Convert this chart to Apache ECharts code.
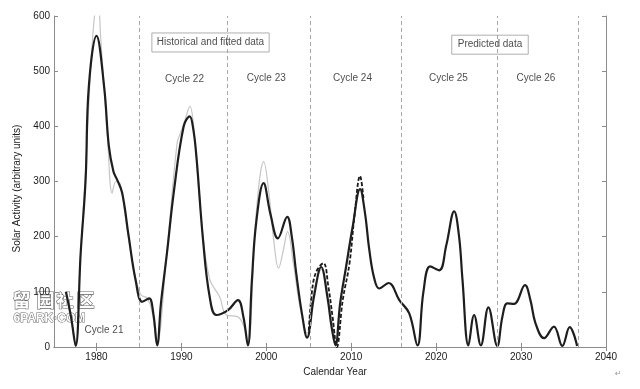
<!DOCTYPE html>
<html>
<head>
<meta charset="utf-8">
<script src="https://cdn.jsdelivr.net/npm/echarts@6/dist/echarts.min.js"></script>
<style>
html,body{margin:0;padding:0;background:#fff;}
#chart{width:640px;height:389px;}
</style>
</head>
<body>
<div id="chart"></div>
<script>
// ---- data ----
var yearTicks = [1980, 1990, 2000, 2010, 2020, 2030, 2040];
var cycleBoundaries = [1985.0, 1995.4, 2005.2, 2015.9, 2027.2, 2036.7];

// fitted + predicted activity (solid black)
var fitYears = [1976.4,1977.0,1977.55,1978.14,1978.72,1979.1,1980.0,1980.9,1981.46,1982.0,1982.44,1983.03,1983.8,1984.6,1985.4,1986.2,1986.7,1987.15,1987.6,1988.3,1989.1,1990.27,1990.98,1991.4,1991.77,1992.55,1993.33,1994.12,1995.5,1996.66,1997.3,1997.83,1998.3,1998.8,1999.68,2000.5,2001.36,2002.46,2003.0,2003.52,2004.2,2004.8,2005.6,2006.46,2007.2,2007.7,2008.14,2008.7,2009.4,2010.17,2011.04,2011.6,2012.13,2012.7,2013.3,2014.4,2015.66,2016.83,2017.8,2018.5,2019.3,2020.36,2021.2,2022.12,2022.7,2023.1,2023.8,2024.47,2025.26,2026.15,2027.2,2027.8,2028.38,2029.17,2030.46,2031.1,2031.7,2032.7,2033.87,2034.85,2035.72,2036.6];
var fitValues = [100,55,2,170,303,472,564,472,364,318,303,279,200,122,82,88,60,3,80,170,280,400,418,395,345,194,91,58,67,85,55,3,120,224,297,240,197,236,200,134,60,17,90,145,90,35,3,80,146,218,286,245,176,125,106,116,85,61,3,100,146,139,185,246,200,122,3,58,3,72,2,55,79,78,112,85,43,16,37,2,36,2];

// historical data (light grey)
var histYears = [1976.4,1977.0,1977.55,1978.1,1978.72,1979.3,1979.7,1979.95,1980.2,1980.5,1980.9,1981.3,1981.85,1982.3,1982.8,1983.5,1984.3,1985.2,1986.0,1986.6,1987.1,1988.3,1989.5,1989.9,1990.4,1991.0,1991.5,1992.3,1993.3,1994.5,1995.3,1996.6,1997.3,1997.83,1998.8,1999.7,2000.3,2000.9,2001.44,2002.0,2002.5,2003.2,2004.0,2004.8,2005.5,2006.5,2007.4,2008.2];
var histValues = [100,50,5,160,320,500,590,615,620,560,470,380,279,300,295,225,150,95,88,60,5,175,370,388,410,436,390,240,125,91,58,55,40,5,240,336,280,190,143,175,209,150,70,25,95,140,80,5];

// cycle 24 observed (black dashed)
var c24Years = [2005.0,2005.47,2006.0,2006.73,2007.3,2007.8,2008.3,2009.0,2009.8,2010.37,2011.04,2011.45];
var c24Values = [30,112,140,152,110,55,0,85,152,236,310,268];

// annotations
var cycleNames = ['Cycle 21','Cycle 22','Cycle 23','Cycle 24','Cycle 25','Cycle 26'];
var cycleLabelYears = [1980.89, 1990.37, 2000.0, 2010.15, 2021.45, 2031.75];
var cycleLabelValues = [31, 486, 487, 487, 487, 487];

function pairs(xs, ys){ return xs.map(function(x,i){ return [x, ys[i]]; }); }

var FONT = 'Liberation Sans, Arial, Helvetica, sans-serif';
var AXC = '#8c8c8c';

var chart = echarts.init(document.getElementById('chart'), null, {renderer:'canvas'});

function note(text, x, y, extra){
  var lab = {show:true, position:'inside', formatter:text, color:'#1a1a1a', fontSize:10, fontFamily:FONT};
  if (extra) for (var k in extra) lab[k] = extra[k];
  return {value:[x,y], label:lab};
}

var notes = cycleNames.map(function(n,i){ return note(n, cycleLabelYears[i], cycleLabelValues[i]); });
notes.push(note('Historical and fitted data', 1993.43, 552, {borderColor:'#9a9a9a', borderWidth:1, padding:[5,5,4,5]}));
notes.push(note('Predicted data', 2026.34, 548, {borderColor:'#9a9a9a', borderWidth:1, padding:[5,6,4,6]}));

function yr(v){ return String(v); }

var option = {
  animation:false,
  backgroundColor:'#fff',
  textStyle:{fontFamily:FONT},
  grid:{left:54, right:34, top:16, bottom:42, containLabel:false},
  xAxis:[{
    type:'value', min:1975, max:2040, position:'bottom',
    name:'Calendar Year', nameLocation:'middle', nameGap:20,
    nameTextStyle:{fontSize:10, color:'#1a1a1a', fontFamily:FONT, padding:[0,0,0,10]},
    axisLine:{show:true, lineStyle:{color:AXC, width:1}},
    axisTick:{show:true, inside:true, length:4, lineStyle:{color:AXC}, customValues:yearTicks},
    axisLabel:{show:true, color:'#1a1a1a', fontSize:10, fontFamily:FONT, margin:5, customValues:yearTicks, formatter:yr},
    splitLine:{show:false}
  },{
    type:'value', min:1975, max:2040, position:'top',
    axisLine:{show:true, lineStyle:{color:AXC, width:1}},
    axisTick:{show:true, inside:true, length:4, lineStyle:{color:AXC}, customValues:yearTicks},
    axisLabel:{show:false, customValues:yearTicks},
    splitLine:{show:false}
  }],
  yAxis:[{
    type:'value', min:0, max:600, interval:100, position:'left',
    name:'Solar Activity (arbitrary units)', nameLocation:'middle', nameGap:22,
    nameTextStyle:{fontSize:10, color:'#1a1a1a', fontFamily:FONT, padding:[0,14,0,0]},
    axisLine:{show:true, lineStyle:{color:AXC, width:1}},
    axisTick:{show:true, inside:true, length:4, lineStyle:{color:AXC}},
    axisLabel:{show:true, color:'#1a1a1a', fontSize:10, fontFamily:FONT, margin:4},
    splitLine:{show:false}
  },{
    type:'value', min:0, max:600, interval:100, position:'right',
    axisLine:{show:true, lineStyle:{color:AXC, width:1}},
    axisTick:{show:true, inside:true, length:4, lineStyle:{color:AXC}},
    axisLabel:{show:false},
    splitLine:{show:false}
  }],
  series:[
    {
      name:'Historical data', type:'line', data:pairs(histYears, histValues),
      smooth:0.4, showSymbol:false, clip:true,
      lineStyle:{color:'#c6c6c6', width:1.2}, z:2,
      markLine:{
        silent:true, symbol:'none',
        lineStyle:{color:'#a8a8a8', type:[4,3], width:1},
        label:{show:false},
        data:cycleBoundaries.map(function(x){ return {xAxis:x}; })
      }
    },
    {
      name:'Cycle 24 observed', type:'line', data:pairs(c24Years, c24Values),
      smooth:0.4, showSymbol:false, clip:true,
      lineStyle:{color:'#1a1a1a', width:1.8, type:[4,2]}, z:3
    },
    {
      name:'Fitted and predicted', type:'line', data:pairs(fitYears, fitValues),
      smooth:0.4, showSymbol:false, clip:true,
      lineStyle:{color:'#1e1e1e', width:2.2}, z:4
    },
    {
      name:'Annotations', type:'scatter', data:notes, silent:true,
      symbol:'circle', symbolSize:1, itemStyle:{color:'rgba(0,0,0,0)'}, z:5
    }
  ],
  graphic:[
    {type:'text', left:12, top:291, style:{text:'留', font:'bold 18px "Noto Sans CJK SC"', fill:'#fff', stroke:'#6a6a6a', lineWidth:1.2}},
    {type:'text', left:36, top:291, style:{text:'园', font:'bold 18px "Noto Sans CJK SC"', fill:'#fff', stroke:'#6a6a6a', lineWidth:1.2}},
    {type:'text', left:56, top:291, style:{text:'社', font:'bold 17px "Noto Sans CJK SC"', fill:'#fff', stroke:'#6a6a6a', lineWidth:1.2}},
    {type:'text', left:76, top:291, style:{text:'区', font:'bold 18px "Noto Sans CJK SC"', fill:'#fff', stroke:'#6a6a6a', lineWidth:1.2}},
    {type:'text', left:13, top:312, style:{text:'6PARK·COM', font:'bold 12px "Liberation Sans"', fill:'#fff', stroke:'#6a6a6a', lineWidth:1}},
    {type:'text', left:615, top:370, style:{text:'↵', font:'8px "DejaVu Sans"', fill:'#999'}}
  ]
};
chart.setOption(option);
</script>
</body>
</html>
